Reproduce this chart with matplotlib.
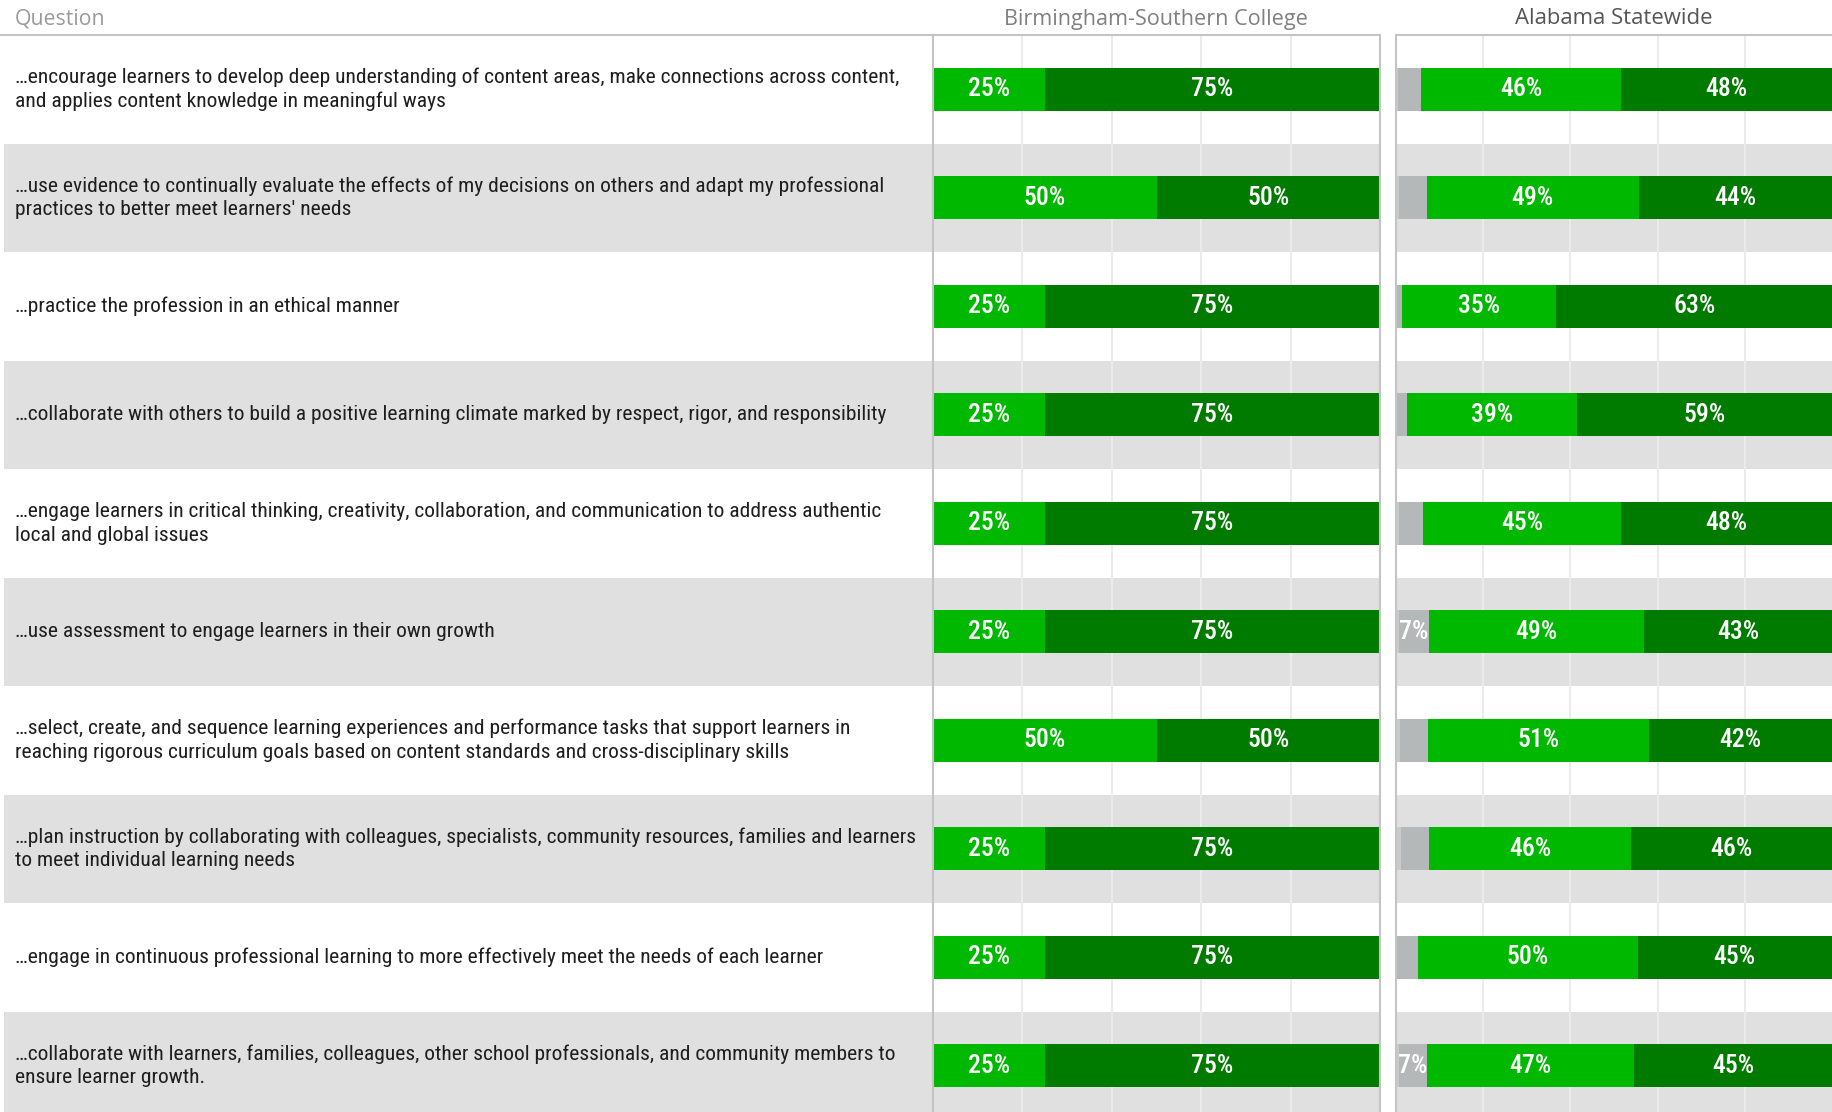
import numpy as np
import matplotlib
matplotlib.use("Agg")
import matplotlib.pyplot as plt
from matplotlib import font_manager
from matplotlib.patches import Rectangle

QUESTIONS = [
    "…encourage learners to develop deep understanding of content areas, make connections across content,\nand applies content knowledge in meaningful ways",
    "…use evidence to continually evaluate the effects of my decisions on others and adapt my professional\npractices to better meet learners' needs",
    "…practice the profession in an ethical manner",
    "…collaborate with others to build a positive learning climate marked by respect, rigor, and responsibility",
    "…engage learners in critical thinking, creativity, collaboration, and communication to address authentic\nlocal and global issues",
    "…use assessment to engage learners in their own growth",
    "…select, create, and sequence learning experiences and performance tasks that support learners in\nreaching rigorous curriculum goals based on content standards and cross-disciplinary skills",
    "…plan instruction by collaborating with colleagues, specialists, community resources, families and learners\nto meet individual learning needs",
    "…engage in continuous professional learning to more effectively meet the needs of each learner",
    "…collaborate with learners, families, colleagues, other school professionals, and community members to\nensure learner growth.",
]
PANELS = ["Birmingham-Southern College", "Alabama Statewide"]

# Birmingham-Southern College: agree / strongly agree (%)
BSC_AGREE = [25, 50, 25, 25, 25, 25, 50, 25, 25, 25]
BSC_STRONG = [75, 50, 75, 75, 75, 75, 50, 75, 75, 75]

# Alabama statewide: disagree / neutral / agree / strongly agree (%)
ST_DISAGREE = [0.5, 0.6, 0.3, 0.3, 0.6, 0.6, 0.9, 1.2, 0.0, 0.6]
ST_NEUTRAL = [5.3, 6.4, 1.1, 2.3, 5.7, 6.9, 6.4, 6.4, 5.0, 6.6]
ST_AGREE = [45.9, 48.7, 35.4, 38.8, 45.4, 49.3, 50.8, 46.4, 50.4, 47.4]
ST_STRONG = [48.3, 44.3, 63.2, 58.6, 48.3, 43.2, 41.9, 46.0, 44.6, 45.4]

C_DIS, C_NEU, C_AGR, C_STR = "#C9CBCB", "#B4B8B9", "#00B800", "#007B00"
BAND, GRID, BORDER = "#E0E0E0", "#EBEBEB", "#C4C4C4"

names = {f.name for f in font_manager.fontManager.ttflist}
COND = next((n for n in ["Roboto Condensed", "Liberation Sans Narrow", "DejaVu Sans"] if n in names), "DejaVu Sans")
HEAD = "Open Sans" if "Open Sans" in names else "DejaVu Sans"

W, H = 1832, 1112
TOP, ROW_H = 35, 108.5
n = len(QUESTIONS)
fig = plt.figure(figsize=(W / 100, H / 100), dpi=100)
renderer = fig.canvas.get_renderer()


def fit(t, target):
    w = t.get_window_extent(renderer).width
    t.set_fontsize(t.get_fontsize() * target / w)
    return t.get_fontsize()


def panel(x0, x1):
    ax = fig.add_axes([x0 / W, 0, (x1 - x0) / W, (H - TOP) / H])
    ax.set_ylim(-0.5 + (H - TOP) / ROW_H, -0.5)
    ax.set_xticks([]); ax.set_yticks([])
    for s in ax.spines.values():
        s.set_color(BORDER); s.set_linewidth(1.5)
    ax.spines["bottom"].set_visible(False)
    return ax


# question column
axq = panel(0, 933)
axq.set_xlim(0, 933)
for s in ["left", "right"]:
    axq.spines[s].set_visible(False)
for i in range(1, n, 2):
    axq.add_patch(Rectangle((4, i - 0.5), 929, 1, color=BAND, lw=0, zorder=0))

probe = axq.text(0, 0, QUESTIONS[0].split("\n")[0], fontfamily=COND, fontsize=14)
fs_q = fit(probe, 891)
probe.remove()
half = 12 / ROW_H  # half the distance between two text lines, in row units
for i, q in enumerate(QUESTIONS):
    lines = q.split("\n")
    offs = [0] if len(lines) == 1 else [-half, half]
    for ln, o in zip(lines, offs):
        axq.text(15, i + o, ln, fontfamily=COND, fontsize=fs_q, color="#1E1E1E",
                 va="center", ha="left", zorder=3)

fs_v = 18.5
y = np.arange(n)
bh = 0.4


def draw_bars(ax, segs, cols, labels_ok):
    ax.set_xlim(0, 100)
    for i in range(1, n, 2):
        ax.axhspan(i - 0.5, i + 0.5, color=BAND, lw=0, zorder=0)
    for gx in [20, 40, 60, 80]:
        ax.axvline(gx, color=GRID, lw=1.5, zorder=1)
    left = np.zeros(n)
    for k, (vals, c) in enumerate(zip(segs, cols)):
        vals = np.asarray(vals, float)
        ax.barh(y, vals, left=left, height=bh, color=c, lw=0, zorder=2)
        for i in range(n):
            if labels_ok(k, vals[i]):
                ax.text(left[i] + vals[i] / 2, y[i], f"{round(vals[i])}%", ha="center",
                        va="center", color="white", fontfamily=COND, fontweight=500,
                        fontsize=fs_v, zorder=3)
        left += vals


axb = panel(933, 1380)
draw_bars(axb, [BSC_AGREE, BSC_STRONG], [C_AGR, C_STR], lambda k, v: v >= 5)

axs = panel(1396, 1832)
axs.spines["right"].set_visible(False)
draw_bars(axs, [ST_DISAGREE, ST_NEUTRAL, ST_AGREE, ST_STRONG], [C_DIS, C_NEU, C_AGR, C_STR],
          lambda k, v: round(v) >= 7)

# headers
t = fig.text(15 / W, 1 - 19 / H, "Question", fontfamily=HEAD, fontsize=14, color="#9A9A9A",
             va="center", ha="left")
fit(t, 91)
t = fig.text(1156 / W, 1 - 19 / H, PANELS[0], fontfamily=HEAD, fontsize=14, color="#808080",
             va="center", ha="center")
fit(t, 305)
t = fig.text(1614 / W, 1 - 19 / H, PANELS[1], fontfamily=HEAD, fontsize=14, color="#555555",
             va="center", ha="center")
fit(t, 199)

fig.savefig("out.png", dpi=100)
